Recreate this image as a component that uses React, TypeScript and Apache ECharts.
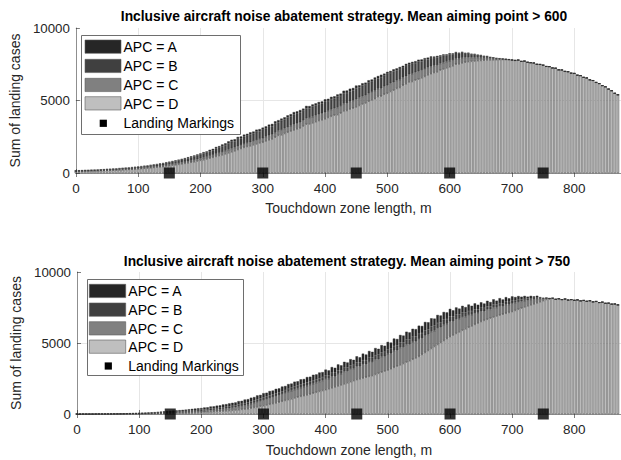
import React, { useEffect, useRef } from "react";
import * as echarts from "echarts";

const touchdownBins = [
  0, 5, 10, 15, 20, 25, 30, 35, 40, 45,
  50, 55, 60, 65, 70, 75, 80, 85, 90, 95,
  100, 105, 110, 115, 120, 125, 130, 135, 140, 145,
  150, 155, 160, 165, 170, 175, 180, 185, 190, 195,
  200, 205, 210, 215, 220, 225, 230, 235, 240, 245,
  250, 255, 260, 265, 270, 275, 280, 285, 290, 295,
  300, 305, 310, 315, 320, 325, 330, 335, 340, 345,
  350, 355, 360, 365, 370, 375, 380, 385, 390, 395,
  400, 405, 410, 415, 420, 425, 430, 435, 440, 445,
  450, 455, 460, 465, 470, 475, 480, 485, 490, 495,
  500, 505, 510, 515, 520, 525, 530, 535, 540, 545,
  550, 555, 560, 565, 570, 575, 580, 585, 590, 595,
  600, 605, 610, 615, 620, 625, 630, 635, 640, 645,
  650, 655, 660, 665, 670, 675, 680, 685, 690, 695,
  700, 705, 710, 715, 720, 725, 730, 735, 740, 745,
  750, 755, 760, 765, 770, 775, 780, 785, 790, 795,
  800, 805, 810, 815, 820, 825, 830, 835, 840, 845,
  850, 855, 860, 865, 870,
];
// the axis runs a little past the last bin
const axisEnd = 875;

// ---- Top plot: mean aiming point > 600 ----
const top600D = [
  109, 115, 118, 125, 128, 138, 141, 147, 157, 163,
  173, 179, 192, 198, 211, 221, 234, 243, 256, 269,
  285, 301, 320, 333, 358, 378, 397, 422, 442, 474,
  499, 531, 557, 589, 627, 659, 698, 736, 774, 819,
  864, 909, 960, 1018, 1075, 1139, 1197, 1248, 1318, 1389,
  1459, 1523, 1614, 1687, 1761, 1822, 1868, 1940, 2000, 2070,
  2115, 2213, 2291, 2350, 2464, 2590, 2630, 2721, 2805, 2890,
  2968, 3046, 3100, 3234, 3360, 3380, 3455, 3535, 3611, 3670,
  3737, 3822, 3904, 3983, 4020, 4125, 4280, 4304, 4408, 4469,
  4552, 4651, 4751, 4820, 4945, 5039, 5125, 5270, 5299, 5427,
  5491, 5613, 5704, 5828, 5890, 6047, 6150, 6280, 6303, 6400,
  6466, 6563, 6652, 6767, 6849, 6923, 6970, 7089, 7164, 7249,
  7325, 7393, 7500, 7521, 7589, 7636, 7676, 7696, 7716, 7745,
  7755, 7773, 7800, 7800, 7801, 7811, 7821, 7825, 7819, 7810,
  7785, 7760, 7790, 7700, 7720, 7640, 7610, 7590, 7500, 7490,
  7440, 7350, 7340, 7250, 7230, 7120, 7110, 7010, 6990, 6890,
  6870, 6750, 6720, 6600, 6560, 6430, 6380, 6250, 6170, 6030,
  5950, 5790, 5680, 5500, 5400,
];
const top600C = [
  17, 18, 19, 20, 20, 21, 22, 23, 25, 26,
  27, 28, 30, 31, 33, 35, 36, 38, 40, 42,
  44, 47, 50, 52, 56, 59, 62, 66, 69, 74,
  78, 83, 87, 92, 98, 103, 109, 115, 121, 128,
  135, 142, 150, 159, 168, 178, 187, 195, 206, 217,
  228, 230, 236, 239, 241, 250, 256, 262, 270, 278,
  280, 291, 299, 310, 317, 328, 336, 347, 356, 366,
  376, 383, 393, 401, 409, 417, 423, 433, 439, 446,
  455, 462, 472, 478, 488, 495, 505, 513, 522, 529,
  539, 547, 524, 535, 542, 549, 558, 533, 540, 550,
  556, 565, 556, 550, 542, 534, 525, 530, 535, 541,
  545, 534, 521, 511, 497, 483, 470, 455, 441, 426,
  412, 396, 381, 366, 350, 332, 298, 264, 238, 212,
  187, 162, 137, 112, 88, 63, 40, 32, 24, 20,
  15, 10, 0, 0, 0, 0, 0, 0, 0, 0,
  0, 0, 0, 0, 0, 0, 0, 0, 0, 0,
  0, 0, 0, 0, 0, 0, 0, 0, 0, 0,
  0, 0, 0, 0, 0,
];
const top600B = [
  34, 36, 37, 39, 40, 43, 44, 46, 49, 51,
  54, 56, 60, 62, 66, 69, 73, 76, 80, 84,
  89, 94, 100, 104, 112, 118, 124, 132, 138, 148,
  156, 166, 174, 184, 196, 206, 218, 230, 242, 256,
  270, 300, 290, 330, 320, 370, 360, 410, 400, 450,
  470, 440, 500, 460, 510, 490, 540, 510, 570, 530,
  580, 550, 590, 570, 630, 580, 640, 620, 660, 640,
  690, 650, 690, 650, 700, 660, 710, 690, 700, 670,
  740, 680, 720, 670, 750, 690, 720, 700, 710, 690,
  760, 700, 760, 720, 750, 700, 740, 720, 770, 740,
  790, 720, 750, 700, 740, 670, 710, 650, 690, 640,
  670, 610, 630, 570, 590, 530, 550, 490, 500, 440,
  460, 400, 410, 360, 370, 280, 280, 230, 230, 180,
  170, 120, 110, 70, 70, 40, 35, 20, 8, 0,
  0, 0, 0, 0, 0, 0, 0, 0, 0, 0,
  0, 0, 0, 0, 0, 0, 0, 0, 0, 0,
  0, 0, 0, 0, 0, 0, 0, 0, 0, 0,
  0, 0, 0, 0, 0,
];
const top600A = [
  10, 11, 11, 11, 12, 13, 13, 14, 14, 15,
  16, 17, 18, 19, 20, 20, 22, 23, 24, 25,
  27, 28, 30, 31, 34, 35, 37, 40, 41, 44,
  47, 50, 52, 55, 59, 62, 65, 69, 73, 77,
  81, 85, 90, 95, 101, 107, 112, 117, 124, 130,
  137, 136, 138, 136, 136, 142, 142, 148, 150, 150,
  155, 161, 156, 155, 155, 145, 149, 155, 157, 163,
  167, 171, 158, 156, 159, 162, 141, 145, 147, 150,
  151, 153, 157, 159, 162, 165, 168, 171, 174, 176,
  180, 152, 155, 157, 159, 161, 164, 166, 168, 137,
  139, 141, 143, 138, 140, 142, 142, 144, 137, 132,
  132, 125, 119, 111, 105, 97, 88, 82, 74, 66,
  57, 58, 58, 49, 51, 41, 41, 33, 25, 17,
  16, 16, 8, 8, 7, 8, 7, 0, 0, 0,
  0, 0, 0, 0, 0, 0, 0, 0, 0, 0,
  0, 0, 0, 0, 0, 0, 0, 0, 0, 0,
  0, 0, 0, 0, 0, 0, 0, 0, 0, 0,
  0, 0, 0, 0, 0,
];

// ---- Bottom plot: mean aiming point > 750 ----
const bot750D = [
  0, 0, 0, 0, 0, 0, 1, 2, 2, 3,
  3, 4, 5, 6, 7, 8, 10, 12, 14, 16,
  18, 21, 24, 28, 31, 35, 40, 45, 50, 55,
  60, 65, 70, 75, 80, 85, 92, 99, 106, 113,
  120, 130, 141, 152, 163, 175, 190, 205, 220, 235,
  250, 274, 298, 322, 346, 370, 412, 454, 496, 538,
  580, 630, 680, 730, 780, 830, 890, 950, 1010, 1070,
  1130, 1184, 1238, 1292, 1346, 1400, 1462, 1524, 1586, 1648,
  1710, 1778, 1846, 1914, 1982, 2050, 2124, 2198, 2272, 2346,
  2420, 2476, 2532, 2588, 2644, 2700, 2780, 2860, 2940, 3020,
  3100, 3190, 3280, 3370, 3460, 3550, 3650, 3750, 3850, 3950,
  4050, 4190, 4330, 4470, 4610, 4750, 4890, 5030, 5170, 5310,
  5450, 5560, 5670, 5780, 5890, 6000, 6102, 6204, 6306, 6408,
  6510, 6588, 6666, 6744, 6822, 6900, 6962, 7024, 7086, 7148,
  7210, 7290, 7370, 7450, 7535, 7620, 7690, 7760, 7830, 7905,
  7980, 8060, 8090, 8140, 8080, 8120, 8060, 8100, 8030, 8060,
  8010, 8040, 7970, 8000, 7940, 7980, 7900, 7930, 7850, 7880,
  7800, 7810, 7740, 7750, 7690,
];
const bot750C = [
  0, 0, 0, 0, 0, 0, 1, 2, 2, 2,
  3, 3, 4, 4, 5, 6, 8, 10, 11, 13,
  15, 17, 19, 22, 24, 27, 31, 35, 38, 41,
  45, 49, 53, 57, 61, 65, 71, 77, 83, 89,
  95, 102, 109, 116, 123, 130, 140, 150, 160, 170,
  180, 200, 220, 240, 260, 280, 304, 328, 352, 376,
  400, 420, 440, 460, 480, 500, 516, 532, 548, 564,
  580, 594, 608, 622, 636, 650, 664, 678, 692, 706,
  760, 700, 800, 740, 840, 780, 870, 820, 900, 850,
  940, 880, 980, 920, 1020, 960, 1060, 1000, 1100, 1040,
  1140, 1080, 1180, 1120, 1220, 1160, 1240, 1160, 1230, 1170,
  1230, 1150, 1210, 1130, 1190, 1110, 1160, 1080, 1120, 1040,
  1080, 980, 1010, 920, 940, 850, 870, 780, 800, 710,
  730, 650, 700, 620, 670, 590, 640, 570, 620, 560,
  580, 547, 514, 480, 440, 400, 367, 334, 300, 225,
  150, 100, 50, 20, 0, 0, 0, 0, 0, 0,
  0, 0, 0, 0, 0, 0, 0, 0, 0, 0,
  0, 0, 0, 0, 0,
];
const bot750B = [
  0, 0, 0, 0, 0, 0, 2, 2, 3, 3,
  4, 4, 5, 5, 6, 7, 9, 10, 12, 13,
  15, 18, 20, 22, 25, 27, 31, 35, 38, 42,
  46, 49, 52, 55, 60, 64, 68, 73, 77, 80,
  82, 88, 93, 99, 104, 110, 116, 122, 128, 134,
  140, 142, 149, 151, 158, 164, 166, 171, 177, 178,
  184, 188, 188, 192, 192, 196, 198, 204, 208, 210,
  216, 221, 226, 230, 235, 240, 242, 243, 245, 246,
  248, 249, 250, 251, 251, 252, 256, 256, 260, 260,
  264, 270, 280, 285, 294, 300, 304, 308, 308, 312,
  316, 320, 324, 332, 336, 340, 344, 348, 352, 356,
  360, 360, 360, 360, 360, 360, 356, 348, 344, 336,
  332, 322, 315, 305, 298, 288, 278, 267, 257, 246,
  236, 231, 226, 222, 217, 212, 206, 201, 195, 190,
  184, 169, 154, 140, 122, 104, 93, 82, 68, 44,
  20, 8, 0, 0, 0, 0, 0, 0, 0, 0,
  0, 0, 0, 0, 0, 0, 0, 0, 0, 0,
  0, 0, 0, 0, 0,
];
const bot750A = [
  0, 0, 0, 0, 0, 0, 4, 5, 5, 6,
  6, 7, 8, 9, 10, 12, 14, 16, 18, 20,
  22, 26, 30, 34, 38, 41, 47, 52, 58, 64,
  69, 74, 79, 84, 89, 96, 103, 110, 117, 123,
  123, 140, 130, 160, 150, 175, 165, 195, 185, 210,
  220, 200, 240, 215, 255, 230, 265, 240, 285, 255,
  300, 260, 310, 270, 320, 280, 330, 285, 340, 300,
  350, 305, 370, 320, 385, 335, 395, 345, 400, 350,
  410, 345, 410, 350, 420, 345, 425, 355, 430, 360,
  440, 370, 460, 395, 480, 420, 500, 425, 505, 435,
  520, 440, 530, 460, 550, 475, 560, 490, 570, 500,
  580, 500, 580, 500, 580, 500, 570, 480, 550, 470,
  540, 440, 510, 420, 490, 390, 460, 370, 430, 330,
  390, 310, 380, 300, 370, 280, 350, 270, 330, 250,
  310, 230, 270, 190, 220, 140, 170, 110, 130, 60,
  30, 12, 0, 0, 0, 0, 0, 0, 0, 0,
  0, 0, 0, 0, 0, 0, 0, 0, 0, 0,
  0, 0, 0, 0, 0,
];

const landingMarkings = [150, 300, 450, 600, 750];
const apcNames = ["APC = A", "APC = B", "APC = C", "APC = D"];
const apcColors = ["#262626", "#404040", "#808080", "#bfbfbf"];
const plotTitles = [
  "Inclusive aircraft noise abatement strategy. Mean aiming point > 600",
  "Inclusive aircraft noise abatement strategy. Mean aiming point > 750",
];
const xAxisTitle = "Touchdown zone length, m";
const yAxisTitle = "Sum of landing cases";

const FONT = "'Liberation Sans', Arial, Helvetica, sans-serif";
const TXT = "#262626";

const grids = [
  { left: 71, top: 28, width: 551, height: 145 },
  { left: 77, top: 272, width: 545, height: 142 },
];
const titleCenters = [
  { x: 344, y: 9 },
  { x: 347, y: 254 },
];
const yNameGaps = [48, 45];
const xNameGaps = [28, 29];
const legendBoxes = [
  { x: 81, y: 35, w: 159, h: 99, px: 85, pw: 36, rows: [40, 59.3, 78.3, 96.7], lmY: 123.3, mx: 103.3, tx: 123.5 },
  { x: 87, y: 279, w: 156, h: 96, px: 89.3, pw: 36.4, rows: [284.3, 303, 321.7, 340], lmY: 366, mx: 108.3, tx: 128.3 },
];

function buildOption() {
  const categories = touchdownBins.map(String).concat([String(axisEnd)]);
  const isMajor = (idx: number) => idx % 20 === 0;
  const plots = [
    [top600A, top600B, top600C, top600D],
    [bot750A, bot750B, bot750C, bot750D],
  ];
  const series: any[] = [];
  plots.forEach((layers, k) => {
    // stack from bottom: D, C, B, A
    [3, 2, 1, 0].forEach((li) => {
      series.push({
        type: "bar",
        name: apcNames[li],
        xAxisIndex: k,
        yAxisIndex: k,
        stack: "stack" + k,
        barWidth: 2.5,
        silent: true,
        data: layers[li],
        itemStyle: { color: apcColors[li], borderColor: "#2e2e2e", borderWidth: 0.42 },
        z: 2,
      });
    });
    series.push({
      type: "scatter",
      name: "Landing Markings",
      xAxisIndex: k,
      yAxisIndex: k,
      symbol: "rect",
      symbolSize: 11,
      silent: true,
      data: landingMarkings.map((x) => [String(x), 0]),
      itemStyle: { color: "#000000" },
      z: 5,
    });
  });

  const xAxis: any[] = [];
  const yAxis: any[] = [];
  [0, 1].forEach((k) => {
    xAxis.push({
      type: "category",
      gridIndex: k,
      data: categories,
      boundaryGap: false,
      axisLine: { show: true, onZero: false, lineStyle: { color: "#8f8f8f", width: 1 } },
      axisTick: { show: true, inside: true, length: 4, interval: isMajor, lineStyle: { color: TXT, width: 0.6 } },
      axisLabel: { color: TXT, fontSize: 13.5, fontFamily: FONT, margin: 8, interval: isMajor },
      splitLine: { show: true, interval: (idx: number) => idx > 0 && idx % 20 === 0, lineStyle: { color: "#e6e6e6", width: 1 } },
      name: xAxisTitle,
      nameLocation: "middle",
      nameGap: xNameGaps[k],
      nameTextStyle: { fontSize: 14, color: TXT, fontFamily: FONT },
    });
    yAxis.push({
      type: "value",
      gridIndex: k,
      min: 0,
      max: 10000,
      interval: 5000,
      axisLine: { show: true, lineStyle: { color: "#8f8f8f", width: 1 } },
      axisTick: { show: true, inside: true, length: 4, lineStyle: { color: TXT, width: 0.6 } },
      axisLabel: { color: TXT, fontSize: 13.3, fontFamily: FONT, margin: 6, formatter: (v: number) => String(v) },
      splitLine: { show: true, showMinLine: false, showMaxLine: false, lineStyle: { color: "#e6e6e6", width: 1 } },
      name: yAxisTitle,
      nameLocation: "middle",
      nameGap: yNameGaps[k],
      nameTextStyle: { fontSize: 14, color: TXT, fontFamily: FONT },
    });
  });
  // top border axes (box)
  [0, 1].forEach((k) => {
    xAxis.push({
      type: "category",
      gridIndex: k,
      position: "top",
      data: categories,
      boundaryGap: false,
      axisLine: { show: true, lineStyle: { color: "#8f8f8f", width: 1 } },
      axisTick: { show: true, inside: true, length: 4, interval: isMajor, lineStyle: { color: TXT, width: 0.6 } },
      axisLabel: { show: false },
      splitLine: { show: false },
    });
  });

  const graphic: any[] = [];
  legendBoxes.forEach((lb) => {
    graphic.push({
      type: "rect",
      z: 100,
      shape: { x: lb.x + 0.5, y: lb.y + 0.5, width: lb.w, height: lb.h },
      style: { fill: "#ffffff", stroke: "#6e6e6e", lineWidth: 1 },
    });
    apcNames.forEach((nm, i) => {
      graphic.push({
        type: "rect",
        z: 101,
        shape: { x: lb.px, y: lb.rows[i], width: lb.pw, height: 13.3 },
        style: { fill: apcColors[i], stroke: "#5a5a5a", lineWidth: 0.6 },
      });
      graphic.push({
        type: "text",
        z: 101,
        x: lb.tx,
        y: lb.rows[i] + 6.8,
        style: { text: nm, fill: "#000000", font: `14px ${FONT}`, textAlign: "left", textVerticalAlign: "middle" },
      });
    });
    graphic.push({
      type: "rect",
      z: 101,
      shape: { x: lb.mx - 3.6, y: lb.lmY - 3.6, width: 7.2, height: 7.2 },
      style: { fill: "#000000" },
    });
    graphic.push({
      type: "text",
      z: 101,
      x: lb.tx,
      y: lb.lmY,
      style: { text: "Landing Markings", fill: "#000000", font: `14px ${FONT}`, textAlign: "left", textVerticalAlign: "middle" },
    });
  });

  return {
    animation: false,
    backgroundColor: "#ffffff",
    title: plotTitles.map((t, k) => ({
      text: t,
      left: titleCenters[k].x,
      top: titleCenters[k].y,
      textAlign: "center",
      padding: 0,
      textStyle: { fontSize: 13.8, fontWeight: "bold", color: "#000000", fontFamily: FONT },
    })),
    grid: grids.map((g) => ({ ...g, containLabel: false })),
    xAxis,
    yAxis,
    series,
    graphic,
  };
}

export default function App() {
  const ref = useRef<HTMLDivElement>(null);
  useEffect(() => {
    if (!ref.current) return;
    const chart = echarts.init(ref.current, null, { renderer: "svg" });
    chart.setOption(buildOption() as any);
    return () => chart.dispose();
  }, []);
  return (
    <div
      ref={ref}
      style={{ position: "absolute", left: 0, top: 0, width: 621, height: 460, background: "#fff" }}
    />
  );
}
